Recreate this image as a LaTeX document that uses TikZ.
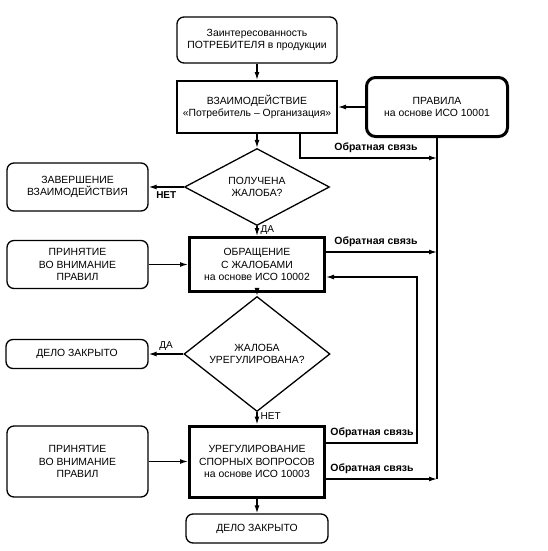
\documentclass[tikz,border=0pt]{standalone}
\usepackage{fontspec}
\setmainfont{Liberation Sans}
\usetikzlibrary{shapes.geometric,arrows.meta}
\begin{document}
\begin{tikzpicture}[x=1pt,y=-1pt,
 every node/.style={font=\fontsize{10.4}{12.4}\selectfont, align=center, inner sep=0pt},
 rbox/.style={draw, rounded corners=7pt, line width=1.3pt},
 sbox/.style={draw, line width=2pt},
 tbox/.style={draw, line width=3pt},
 dia/.style={draw, diamond, line width=1.3pt, inner sep=0pt, aspect=1},
 conn/.style={line width=1.3pt, -{Latex[length=8pt,width=5pt]}},
 plain/.style={line width=1.3pt},
 fb/.style={font=\bfseries\fontsize{10.5}{12}\selectfont},
 lab/.style={font=\fontsize{10}{12}\selectfont},
 blab/.style={font=\bfseries\fontsize{10}{12}\selectfont}
]
\useasboundingbox (0,0) rectangle (548,551);
% nodes
\node[rbox, minimum width=160pt, minimum height=46pt] (top) at (257,40) {Заинтересованность\\ПОТРЕБИТЕЛЯ в продукции};
\node[sbox, minimum width=160pt, minimum height=52pt] (vz) at (257,107) {ВЗАИМОДЕЙСТВИЕ\\«Потребитель – Организация»};
\node[rbox, line width=3pt, rounded corners=9pt, minimum width=141pt, minimum height=59pt] (pr) at (437,107) {ПРАВИЛА\\на основе ИСО 10001};
\node[dia, minimum width=145pt, minimum height=61pt] (d1) at (257,187) {ПОЛУЧЕНА\\ЖАЛОБА?};
\node[rbox, minimum width=141pt, minimum height=48pt] (zav) at (77.5,187) {ЗАВЕРШЕНИЕ\\ВЗАИМОДЕЙСТВИЯ};
\node[tbox, minimum width=135pt, minimum height=54pt] (obr) at (257,264.5) {ОБРАЩЕНИЕ\\С ЖАЛОБАМИ\\на основе ИСО 10002};
\node[rbox, minimum width=141pt, minimum height=48pt] (pri1) at (77.5,264.5) {ПРИНЯТИЕ\\ВО ВНИМАНИЕ\\ПРАВИЛ};
\node[dia, minimum width=146pt, minimum height=98pt] (d2) at (257,354) {ЖАЛОБА\\УРЕГУЛИРОВАНА?};
\node[rbox, minimum width=142pt, minimum height=29pt] (del1) at (77,354) {ДЕЛО ЗАКРЫТО};
\node[tbox, minimum width=135pt, minimum height=71pt] (ure) at (257,461.5) {УРЕГУЛИРОВАНИЕ\\СПОРНЫХ ВОПРОСОВ\\на основе ИСО 10003};
\node[rbox, minimum width=141pt, minimum height=71pt] (pri2) at (77.5,461.5) {ПРИНЯТИЕ\\ВО ВНИМАНИЕ\\ПРАВИЛ};
\node[rbox, minimum width=142pt, minimum height=29pt] (del2) at (257,528.5) {ДЕЛО ЗАКРЫТО};
% coordinates
\coordinate (b1) at (437,158);
\coordinate (b2) at (437,252);
\coordinate (bend) at (437,479);
\coordinate (L1) at (417,443);
\coordinate (L2) at (417,277);
\coordinate (f1) at (300,158);
% connectors
\draw[conn] (top) -- (vz);
\draw[conn] (pr) -- (vz);
\draw[plain] (pr.south) -- (bend);
\draw[conn] (vz.south -| f1) -- (f1) -- (b1);
\draw[conn] (vz) -- (d1);
\draw[conn] (d1.west) -- (zav.east) node[blab, midway, below=4pt] {НЕТ};
\draw[conn] (d1) -- (obr) node[lab, pos=0.35, right=3pt] {ДА};
\draw[conn] (pri1) -- (obr);
\draw[conn] (obr.east |- b2) -- (b2);
\draw[conn] (ure.east |- L1) -- (L1) -- (L2) -- (obr.east |- L2);
\draw[conn] (ure.east |- bend) -- (bend);
\draw[conn] (obr) -- (d2);
\draw[conn] (d2.west) -- (del1.east) node[lab, midway, above=3pt] {ДА};
\draw[conn] (d2) -- (ure) node[lab, pos=0.3, right=3pt] {НЕТ};
\draw[conn] (pri2) -- (ure);
\draw[conn] (ure) -- (del2);
% feedback labels
\node[fb, anchor=south] (t1) at (376,153) {Обратная связь};
\node[fb, anchor=south] (t2) at (376,247) {Обратная связь};
\node[fb, anchor=south] (t3) at (372,438) {Обратная связь};
\node[fb, anchor=south] (t4) at (372,474) {Обратная связь};
\end{tikzpicture}
\end{document}
